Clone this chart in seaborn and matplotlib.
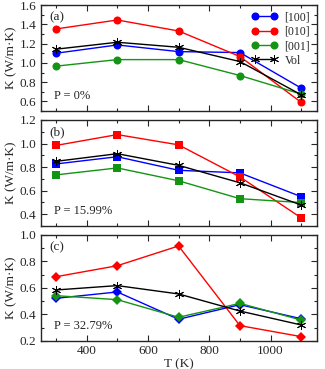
import numpy as np
import pandas as pd
import matplotlib
matplotlib.use("Agg")
import matplotlib.pyplot as plt
import seaborn as sns
from matplotlib.ticker import MultipleLocator

sns.set_theme(style="ticks")
plt.rcParams['font.family'] = ['Liberation Serif', 'DejaVu Serif']

T = [300, 500, 700, 900, 1100]
series_names = ['[100]', '[010]', '[001]', 'Vol']

a_100 = [1.10, 1.186, 1.117, 1.107, 0.738]
a_010 = [1.352, 1.445, 1.331, 1.066, 0.59]
a_001 = [0.966, 1.034, 1.034, 0.869, 0.676]
a_vol = [1.142, 1.214, 1.162, 1.014, 0.669]

b_100 = [0.827, 0.888, 0.773, 0.751, 0.549]
b_010 = [0.984, 1.076, 0.989, 0.717, 0.369]
b_001 = [0.734, 0.793, 0.684, 0.532, 0.499]
b_vol = [0.849, 0.914, 0.815, 0.667, 0.478]

c_100 = [0.522, 0.570, 0.364, 0.474, 0.368]
c_010 = [0.685, 0.768, 0.917, 0.316, 0.233]
c_001 = [0.542, 0.512, 0.379, 0.484, 0.358]
c_vol = [0.585, 0.618, 0.555, 0.426, 0.321]

panels = [
    dict(tag='(a)', ptxt='P = 0%', vals=[a_100, a_010, a_001, a_vol], marker='o',
         ylim=(0.5, 1.6), ticks=[0.6, 0.8, 1.0, 1.2, 1.4, 1.6]),
    dict(tag='(b)', ptxt='P = 15.99%', vals=[b_100, b_010, b_001, b_vol], marker='s',
         ylim=(0.3, 1.2), ticks=[0.4, 0.6, 0.8, 1.0, 1.2]),
    dict(tag='(c)', ptxt='P = 32.79%', vals=[c_100, c_010, c_001, c_vol], marker='D',
         ylim=(0.2, 1.0), ticks=[0.2, 0.4, 0.6, 0.8, 1.0]),
]
colors = ['#0000ff', '#ff0000', '#149414', '#000000']
asterisk = (6, 2, 0)
FS = 9.5

fig = plt.figure(figsize=(3.25, 3.69), dpi=100)
left, width = 0.125, 0.849
bottoms = [0.699, 0.3875, 0.0759]
h = 0.2873

for i, p in enumerate(panels):
    ax = fig.add_axes([left, bottoms[i], width, h])
    for j, name in enumerate(series_names):
        df = pd.DataFrame({'T': T, 'K': p['vals'][j]})
        if name == 'Vol':
            mk, ms, mew = asterisk, 6.5, 0.7
        else:
            mk, ms, mew = p['marker'], (5.2 if p['marker'] == 'D' else 5.8), 0
        sns.lineplot(data=df, x='T', y='K', ax=ax, color=colors[j], lw=1.0,
                     marker=mk, markersize=ms, markeredgewidth=mew,
                     markeredgecolor=colors[j], label=name, legend=False)
    ax.set_xlim(250, 1150)
    ax.set_ylim(*p['ylim'])
    ax.set_yticks(p['ticks'])
    ax.yaxis.set_minor_locator(MultipleLocator(0.1))
    ax.set_xticks([400, 600, 800, 1000])
    ax.xaxis.set_minor_locator(MultipleLocator(100))
    ax.tick_params(which='both', direction='in', top=True, right=True, labelsize=FS, width=0.8, pad=3)
    ax.tick_params(which='major', length=4)
    ax.tick_params(which='minor', length=2.5)
    ax.yaxis.set_major_formatter(matplotlib.ticker.FormatStrFormatter('%.1f'))
    for s in ax.spines.values():
        s.set_linewidth(1.0)
    ax.set_ylabel('K (W/m·K)', fontsize=FS, labelpad=2)
    if i < 2:
        ax.set_xlabel('')
        ax.tick_params(labelbottom=False)
    else:
        ax.set_xlabel('T (K)', fontsize=FS, labelpad=1)
    ax.text(0.03, 0.88, p['tag'], transform=ax.transAxes, fontsize=FS, va='center')
    ax.text(0.05, 0.14, p['ptxt'], transform=ax.transAxes, fontsize=FS - 0.5, va='center')
    if i == 0:
        leg = ax.legend(loc='upper right', frameon=False, fontsize=FS - 1, numpoints=2,
                        handlelength=2.2, borderaxespad=0.15, labelspacing=0.2,
                        handletextpad=0.6)

fig.savefig('out.png', dpi=100)
